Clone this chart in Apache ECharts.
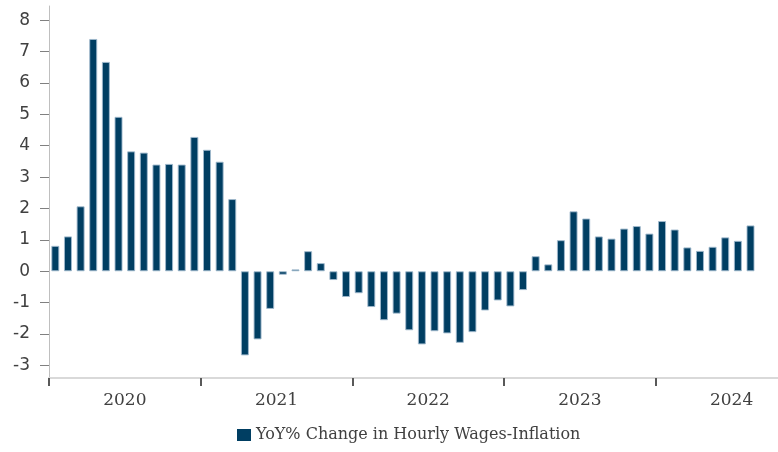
<!DOCTYPE html>
<html>
<head>
<meta charset="utf-8">
<script src="https://cdn.jsdelivr.net/npm/echarts@6/dist/echarts.min.js"></script>
<style>html,body{margin:0;padding:0;background:#fff}#c{width:778px;height:452px}</style>
</head>
<body>
<div id="c"></div>
<script>
const years = ['2020', '2021', '2022', '2023', '2024'];
const monthNames = ['Jan','Feb','Mar','Apr','May','Jun','Jul','Aug','Sep','Oct','Nov','Dec'];
const months = [];
for (let i = 0; i < 56; i++) months.push(monthNames[i % 12] + ' ' + years[Math.floor(i / 12)]);
const values = [
  0.81, 1.11, 2.07, 7.40, 6.67, 4.92, 3.82, 3.78, 3.40, 3.42, 3.40, 4.28,
  3.87, 3.49, 2.30, -2.68, -2.17, -1.20, -0.11, 0.06, 0.64, 0.26, -0.28, -0.82,
  -0.70, -1.14, -1.56, -1.35, -1.88, -2.33, -1.91, -1.98, -2.28, -1.94, -1.25, -0.93,
  -1.12, -0.60, 0.48, 0.22, 0.99, 1.91, 1.68, 1.11, 1.04, 1.36, 1.44, 1.20,
  1.60, 1.33, 0.76, 0.65, 0.78, 1.08, 0.97, 1.46
];
const yTicks = [-3, -2, -1, 0, 1, 2, 3, 4, 5, 6, 7, 8];
const yearTickPos = [0, 12, 24, 36, 48];
const yearLabelPos = [6, 18, 30, 42, 54];
const seriesName = 'YoY% Change in Hourly Wages-Inflation';

const MONTH_PX = 12.64;
const chart = echarts.init(document.getElementById('c'), null, {renderer: 'canvas'});
chart.setOption({
  animation: false,
  backgroundColor: '#fff',
  grid: [
    {left: 49, width: MONTH_PX * months.length, top: 6, bottom: 74},
    {left: 49, right: 0, top: 6, bottom: 74}
  ],
  legend: {
    data: [seriesName],
    bottom: 4,
    left: 232,
    itemWidth: 14,
    itemHeight: 12,
    itemGap: 6,
    icon: 'rect',
    itemStyle: {color: '#003e62', borderWidth: 0},
    textStyle: {fontFamily: 'DejaVu Serif', fontSize: 16, color: '#404040'}
  },
  xAxis: [
    {
      type: 'category', gridIndex: 0, data: months,
      axisLine: {show: false}, axisTick: {show: false}, axisLabel: {show: false}
    },
    {
      type: 'value', gridIndex: 1, min: 0, max: 729 / MONTH_PX,
      splitLine: {show: false},
      axisLine: {show: true, onZero: false, lineStyle: {color: '#d9d9d9', width: 2}},
      axisTick: {show: true, customValues: yearTickPos, length: 8, lineStyle: {color: '#595959', width: 2}},
      axisLabel: {
        customValues: yearLabelPos, margin: 14,
        formatter: v => years[(v - 6) / 12],
        fontFamily: 'DejaVu Serif', fontSize: 17, color: '#404040'
      }
    }
  ],
  yAxis: [
    {
      type: 'value', gridIndex: 0, min: -3.4, max: 8.45,
      splitLine: {show: false},
      axisLine: {show: true, onZero: false, lineStyle: {color: '#bfbfbf', width: 1}},
      axisTick: {show: true, customValues: yTicks, length: 9, lineStyle: {color: '#808080', width: 1}},
      axisLabel: {
        customValues: yTicks, margin: 19,
        fontFamily: 'DejaVu Sans', fontSize: 17, color: '#404040'
      }
    },
    {
      type: 'value', gridIndex: 1, min: -3.4, max: 8.45, show: false
    }
  ],
  series: [{
    name: seriesName,
    type: 'bar',
    xAxisIndex: 0, yAxisIndex: 0,
    data: values,
    barWidth: 8,
    itemStyle: {color: '#003e62', borderColor: 'rgba(160,185,205,0.9)', borderWidth: 1}
  }]
});
</script>
</body>
</html>
